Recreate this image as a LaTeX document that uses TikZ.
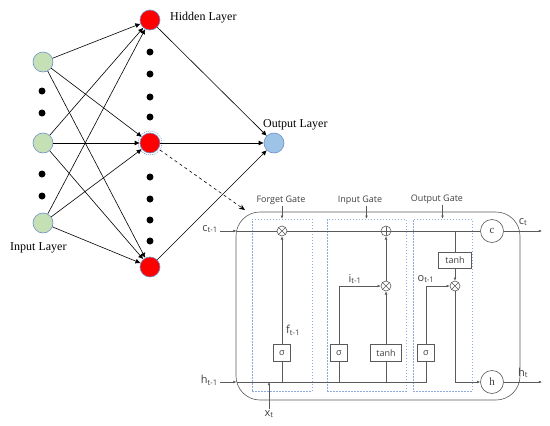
\documentclass[tikz,border=0pt]{standalone}
\usepackage{fontspec}
\setmainfont{Liberation Serif}
\setsansfont{Open Sans}
\usetikzlibrary{arrows.meta}
\definecolor{ingreen}{HTML}{C5E0B4}
\definecolor{outblue}{HTML}{9DC3E6}
\definecolor{nodeedge}{HTML}{6F8FC8}
\definecolor{lgray}{HTML}{5A5A5A}
\definecolor{gateblue}{HTML}{8FAADC}
\definecolor{txtgray}{HTML}{404040}
\tikzset{
  inp/.style={circle, minimum size=20pt, inner sep=0pt, fill=ingreen, draw=nodeedge, line width=0.6pt},
  hid/.style={circle, minimum size=20pt, inner sep=0pt, fill=red, draw=nodeedge, line width=0.6pt},
  outn/.style={circle, minimum size=20pt, inner sep=0pt, fill=outblue, draw=nodeedge, line width=0.6pt},
  blackdot/.style={circle, minimum size=7pt, inner sep=0pt, fill=black},
  nnedge/.style={draw=black, line width=0.6pt, -{Latex[length=5pt,width=5pt]}},
  layerlbl/.style={font=\fontsize{12}{14}\selectfont, text=black, inner sep=0pt},
  ln/.style={draw=lgray, line width=0.6pt},
  lnarrow/.style={ln, -{Latex[length=3.2pt,width=2.8pt]}},
  gatebox/.style={draw=gateblue, dashed, dash pattern=on 1.5pt off 1.5pt, line width=0.6pt, inner sep=0pt},
  opbox/.style={draw=lgray, fill=white, line width=0.6pt, inner sep=0pt, font=\sffamily\fontsize{9}{10}\selectfont, text=txtgray},
  mult/.style={circle, draw=lgray, fill=white, line width=0.6pt, minimum size=10pt, inner sep=0pt,
    path picture={\draw[lgray, line width=0.6pt] (path picture bounding box.north west) -- (path picture bounding box.south east)
      (path picture bounding box.north east) -- (path picture bounding box.south west);}},
  plusop/.style={circle, draw=lgray, fill=white, line width=0.6pt, minimum size=10pt, inner sep=0pt,
    path picture={\draw[lgray, line width=0.9pt] (path picture bounding box.north) -- (path picture bounding box.south)
      (path picture bounding box.west) -- (path picture bounding box.east);}},
  state/.style={circle, draw=lgray, fill=white, line width=0.6pt, minimum size=23pt, inner sep=0pt, font=\fontsize{11}{12}\selectfont, text=txtgray},
  gatelbl/.style={font=\sffamily\fontsize{9}{10}\selectfont, text=txtgray, inner sep=1pt},
  varlbl/.style={font=\sffamily\fontsize{11}{12}\selectfont, text=txtgray, inner sep=1pt},
}
\newcommand{\sbs}[1]{\textsubscript{#1}}
\begin{document}
\begin{tikzpicture}[x=1pt,y=-1pt]
\useasboundingbox (0,0) rectangle (550,426);
% ---------------- neural network ----------------
\node[inp] (i1) at (43,62) {};
\node[inp] (i2) at (43,143) {};
\node[inp] (i3) at (43,223) {};
\node[hid] (h1) at (150,20) {};
\node[hid] (h2) at (150,143) {};
\node[hid] (h3) at (150,267) {};
\node[outn] (o1) at (274,143) {};
\node[circle, draw=nodeedge, dashed, dash pattern=on 1pt off 1pt, minimum size=24pt, inner sep=0pt, line width=0.5pt] (h2r) at (150,143) {};
\foreach \y/\n in {91/a,113/b,174/c,196/d} \node[blackdot] (id\n) at (42,\y) {};
\foreach \y/\n in {52/a,74/b,97/c,117/d,177/e,199/f,220/g,241/h} \node[blackdot] (hd\n) at (150,\y) {};
\foreach \i in {1,2,3} \foreach \h in {1,2,3} \draw[nnedge] (i\i) -- (h\h);
\foreach \h in {1,2,3} \draw[nnedge] (h\h) -- (o1);
\node[layerlbl, anchor=west] (hl) at (170,18) {Hidden Layer};
\node[layerlbl, anchor=west] (ol) at (263,125) {Output Layer};
\node[layerlbl, anchor=west] (il) at (10,248) {Input Layer};
% ---------------- LSTM cell ----------------
\node[draw=lgray, line width=0.6pt, rounded corners=24pt, minimum width=284pt, minimum height=188pt, inner sep=0pt] (cell) at (378,306) {};
\draw[dashed, line width=0.6pt, -{Stealth[length=6pt,width=5pt]}] (h2r) -- (245,210);
% gate boxes
\node[gatebox, minimum width=60pt, minimum height=172pt] (fg) at (282,305) {};
\node[gatebox, minimum width=79pt, minimum height=172pt] (ig) at (366.5,305) {};
\node[gatebox, minimum width=59pt, minimum height=172pt] (og) at (442.5,305) {};
\node[gatelbl] (fgl) at (281,200) {Forget Gate};
\node[gatelbl] (igl) at (360,200) {Input Gate};
\node[gatelbl] (ogl) at (437,199) {Output Gate};
\draw[lnarrow] (fg.north |- fgl.south) -- (fg.north);
\draw[lnarrow] (ig.north |- igl.south) -- (ig.north);
\draw[lnarrow] (og.north |- ogl.south) -- (og.north);
% operators
\node[mult] (fx) at (282,231) {};
\node[plusop] (pl) at (386,231) {};
\node[mult] (ix) at (386,286) {};
\node[mult] (ox) at (455,286) {};
\node[opbox, minimum width=17pt, minimum height=17pt] (fs) at (282,353) {σ};
\node[opbox, minimum width=17pt, minimum height=17pt] (is) at (339,353) {σ};
\node[opbox, minimum width=31pt, minimum height=17pt] (it) at (386,353) {tanh};
\node[opbox, minimum width=17pt, minimum height=17pt] (os) at (426,353) {σ};
\node[opbox, minimum width=33pt, minimum height=16pt] (ot) at (455,260) {tanh};
\node[state] (cc) at (492,231) {c};
\node[state] (hc) at (492,382) {h};
% inputs / outputs
\coordinate (cin) at (220,231);
\coordinate (ce) at (236.5,231);
\coordinate (cout) at (542,231);
\coordinate (hin) at (220,382);
\coordinate (he) at (236.5,382);
\coordinate (hout) at (542,382);
\coordinate (ctap) at (455,231);
\node[varlbl, anchor=east] (cl) at (219,229) {c\sbs{t-1}};
\node[varlbl, anchor=east] (hlb) at (219,380) {h\sbs{t-1}};
\node[varlbl] (ctl) at (523,222) {c\sbs{t}};
\node[varlbl] (htl) at (523,373) {h\sbs{t}};
\node[varlbl] (xl) at (269,414) {x\sbs{t}};
\node[varlbl] (fl) at (293,330) {f\sbs{t-1}};
\node[varlbl] (il2) at (355,279) {i\sbs{t-1}};
\node[varlbl] (ol2) at (426,279) {o\sbs{t-1}};
% cell state line
\draw[lnarrow] (cin) -- (ce);
\draw[ln] (ce) -- (fx) (fx) -- (pl) (pl) -- (cc);
\draw[lnarrow] (cc) -- (cout);
% hidden line
\draw[lnarrow] (hin) -- (he);
\draw[ln] (he) -- (os.south |- he) -- (os);
\draw[ln] (fs.south |- he) -- (fs);
\draw[ln] (is.south |- he) -- (is);
\draw[ln] (it.south |- he) -- (it);
\draw[lnarrow] (xl) -- (xl.north |- he);
% forget gate
\draw[lnarrow] (fs) -- (fx);
% input gate
\draw[lnarrow] (is) |- (ix);
\draw[lnarrow] (it) -- (ix);
\draw[lnarrow] (ix) -- (pl);
% output gate
\draw[ln] (ctap) -- (ot);
\draw[lnarrow] (ot) -- (ox);
\draw[lnarrow] (os) |- (ox);
\draw[lnarrow] (ox) |- (hc);
\draw[lnarrow] (hc) -- (hout);
\end{tikzpicture}
\end{document}
